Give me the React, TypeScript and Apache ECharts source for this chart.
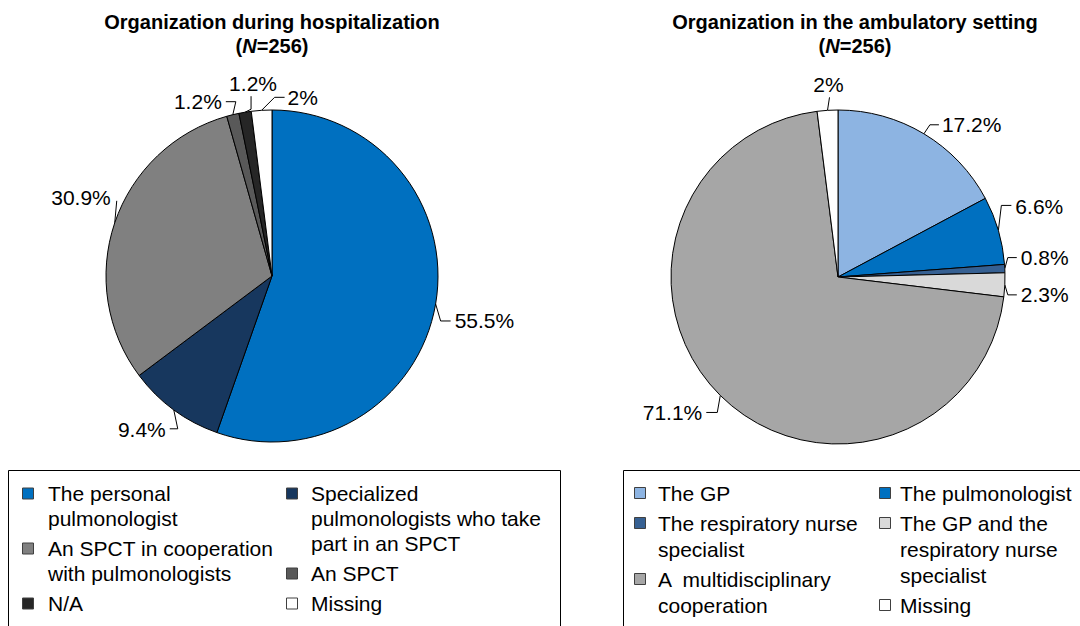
import React, { useEffect, useRef } from "react";
import * as echarts from "echarts";

// ---------- data ----------
const hospTitle = "Organization during hospitalization";
const hospCategories = [
  "The personal pulmonologist",
  "Specialized pulmonologists who take part in an SPCT",
  "An SPCT in cooperation with pulmonologists",
  "An SPCT",
  "N/A",
  "Missing",
];
const hospValues = [55.5, 9.4, 30.9, 1.2, 1.2, 2];
const hospLegendLines = [
  ["The personal", "pulmonologist"],
  ["Specialized", "pulmonologists who take", "part in an SPCT"],
  ["An SPCT in cooperation", "with pulmonologists"],
  ["An SPCT"],
  ["N/A"],
  ["Missing"],
];

const ambTitle = "Organization in the ambulatory setting";
const ambCategories = [
  "The GP",
  "The pulmonologist",
  "The respiratory nurse specialist",
  "The GP and the respiratory nurse specialist",
  "A  multidisciplinary cooperation",
  "Missing",
];
const ambValues = [17.2, 6.6, 0.8, 2.3, 71.1, 2];
const ambLegendLines = [
  ["The GP"],
  ["The pulmonologist"],
  ["The respiratory nurse", "specialist"],
  ["The GP and the", "respiratory nurse", "specialist"],
  ["A  multidisciplinary", "cooperation"],
  ["Missing"],
];
const sampleSize = 256;

// ---------- styles ----------
const hospColors = ["#0070C0", "#17375E", "#808080", "#595959", "#262626", "#FFFFFF"];
const ambColors = ["#8DB4E2", "#0070C0", "#366092", "#D9D9D9", "#A6A6A6", "#FFFFFF"];
const FONT = '"Liberation Sans", Arial, Helvetica, sans-serif';

// leader-line shapes, relative to the point where ECharts' own label line leaves the slice edge
type LeaderStyle = { pts: number[][]; tx: number; ty: number; align: string; v: string };
const hospLeaders: LeaderStyle[] = [
  { pts: [[0, 0], [5, 17], [15, 17]], tx: 19, ty: 17, align: "left", v: "middle" },
  { pts: [[0, 0], [4, 19], [-4, 19]], tx: -8, ty: 20, align: "right", v: "middle" },
  { pts: [[0, 0], [2, -22]], tx: -4, ty: -25, align: "right", v: "middle" },
  { pts: [[0, 0], [3, -13], [-7, -13]], tx: -11, ty: -13, align: "right", v: "middle" },
  { pts: [[0, 0], [6, -3], [6, -16]], tx: 8, ty: -18, align: "center", v: "bottom" },
  { pts: [[0, 0], [13, -13], [23, -13]], tx: 26, ty: -13, align: "left", v: "middle" },
];
const ambLeaders: LeaderStyle[] = [
  { pts: [[0, 0], [6, -9], [15, -9]], tx: 18, ty: -9, align: "left", v: "middle" },
  { pts: [[0, 0], [3, -25], [13, -25]], tx: 17, ty: -24, align: "left", v: "middle" },
  { pts: [[0, 0], [3, -11], [12, -11]], tx: 16, ty: -11, align: "left", v: "middle" },
  { pts: [[0, 0], [3, 10], [12, 10]], tx: 16, ty: 10, align: "left", v: "middle" },
  { pts: [[0, 0], [-3, 17], [-14, 17]], tx: -18, ty: 17, align: "right", v: "middle" },
  { pts: [[0, 0], [2, -13]], tx: 1, ty: -15, align: "center", v: "bottom" },
];

function pieSeries(
  name: string,
  cats: string[],
  vals: number[],
  colors: string[],
  center: number[],
  radius: number,
  leaders: LeaderStyle[]
) {
  return {
    type: "pie",
    name,
    center,
    radius,
    startAngle: 90,
    clockwise: true,
    avoidLabelOverlap: false,
    data: cats.map((c, i) => ({ name: c, value: vals[i], itemStyle: { color: colors[i] } })),
    itemStyle: { borderColor: "#000", borderWidth: 1 },
    label: {
      show: true,
      position: "outside",
      formatter: "{c}%",
      fontSize: 21,
      fontFamily: FONT,
      color: "#000",
    },
    labelLine: { show: true, length: 8, length2: 8, smooth: false, lineStyle: { color: "#000", width: 1 } },
    labelLayout: (params: any) => {
      const l = leaders[params.dataIndex];
      const pts = params.labelLinePoints;
      if (!l || !pts || !pts[0]) return {};
      const [x0, y0] = pts[0];
      return {
        x: x0 + l.tx,
        y: y0 + l.ty,
        align: l.align,
        verticalAlign: l.v,
        labelLinePoints: l.pts.map((p) => [x0 + p[0], y0 + p[1]]),
        hideOverlap: false,
        moveOverlap: null,
      };
    },
    emphasis: { disabled: true },
    silent: true,
  };
}

function titleGraphic(title: string, cx: number) {
  return {
    type: "text",
    x: cx,
    y: 10,
    style: {
      text: title + "\n({it|N}=" + sampleSize + ")",
      textAlign: "center",
      textVerticalAlign: "top",
      fontSize: 20,
      fontWeight: "bold",
      fontFamily: FONT,
      lineHeight: 24,
      fill: "#000",
      rich: {
        it: { fontSize: 20, fontWeight: "bold", fontStyle: "italic", fontFamily: FONT, lineHeight: 24, fill: "#000" },
      },
    },
  };
}

function legendGraphic(
  lines: string[][],
  colors: string[],
  box: { x: number; y: number; w: number; h: number },
  colX: number[],
  textOff: number[],
  startY: number,
  lineH: number,
  gap: number
) {
  const els: any[] = [
    {
      type: "rect",
      shape: { x: box.x, y: box.y, width: box.w, height: box.h },
      style: { fill: "none", stroke: "#000", lineWidth: 1 },
    },
  ];
  const ys = [startY, startY];
  lines.forEach((ln, i) => {
    const col = i % 2;
    const y = ys[col];
    els.push({
      type: "rect",
      shape: { x: colX[col] + 0.5, y: y + lineH / 2 - 5.5, width: 11, height: 11 },
      style: { fill: colors[i], stroke: "#404040", lineWidth: 1 },
    });
    els.push({
      type: "text",
      x: colX[col] + textOff[col],
      y,
      style: {
        text: ln.join("\n"),
        fontSize: 21,
        fontFamily: FONT,
        lineHeight: lineH,
        fill: "#000",
        textVerticalAlign: "top",
      },
    });
    ys[col] = y + ln.length * lineH + gap;
  });
  return els;
}

export default function App() {
  const ref = useRef<HTMLDivElement>(null);
  useEffect(() => {
    if (!ref.current) return;
    const chart = echarts.init(ref.current, undefined, { renderer: "svg" });
    chart.setOption({
      animation: false,
      backgroundColor: "#fff",
      series: [
        pieSeries("hosp", hospCategories, hospValues, hospColors, [272, 276], 166, hospLeaders),
        pieSeries("amb", ambCategories, ambValues, ambColors, [838, 277], 167, ambLeaders),
      ],
      graphic: [
        titleGraphic(hospTitle, 272),
        titleGraphic(ambTitle, 855),
        ...legendGraphic(hospLegendLines, hospColors, { x: 8.5, y: 470.5, w: 552, h: 200 }, [22, 286], [26, 25], 481, 25, 5),
        ...legendGraphic(ambLegendLines, ambColors, { x: 623.5, y: 470.5, w: 500, h: 200 }, [634, 879], [24, 21], 480, 26, 4),
      ],
    });
    return () => chart.dispose();
  }, []);
  return <div ref={ref} style={{ position: "fixed", left: 0, top: 0, width: 1080, height: 626 }} />;
}
